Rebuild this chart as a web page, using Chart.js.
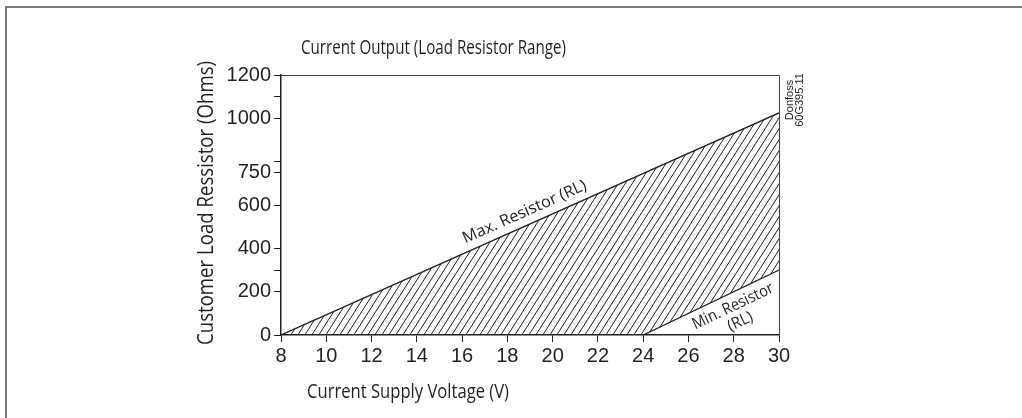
<!DOCTYPE html>
<html>
<head>
<meta charset="utf-8">
<script src="https://cdn.jsdelivr.net/npm/chart.js@4.4.1/dist/chart.umd.min.js"></script>
<style>
    html, body { margin: 0; padding: 0; background: #fff; }
    #wrap { width: 1022px; height: 418px; }
</style>
</head>
<body>
<div id="wrap"><canvas id="chart" width="1022" height="418"></canvas></div>
<script>
// max / min load resistor lines (V, Ohms)
const maxVoltage = [8, 30];
const maxResistor = [0, 1025];
const minVoltage = [8, 24, 30];
const minResistor = [0, 0, 300];

const xTicks = [8, 10, 12, 14, 16, 18, 20, 22, 24, 26, 28, 30];
const yTicks = [0, 200, 300, 400, 600, 750, 800, 1000, 1100, 1200];
const yTickLabels = ['0', '200', '', '400', '600', '750', '', '1000', '', '1200'];

const ink = '#231f20';

function hatchPattern() {
    const c = document.createElement('canvas');
    c.width = 7;
    c.height = 11;
    const g = c.getContext('2d');
    g.strokeStyle = ink;
    g.lineWidth = 1;
    g.beginPath();
    for (let k = -1; k <= 1; k++) {
        g.moveTo(k * 7 - 7, 22);
        g.lineTo(k * 7 + 14, -11);
    }
    g.stroke();
    return g.createPattern(c, 'repeat');
}

// draw text squeezed to a given width (the original uses a narrow face)
function fitText(ctx, s, x, y, size, width, align) {
    ctx.save();
    ctx.font = size + 'px "Open Sans"';
    const w = ctx.measureText(s).width;
    ctx.translate(x, y);
    ctx.scale(width / w, 1);
    ctx.textAlign = align || 'left';
    ctx.fillText(s, 0, 0);
    ctx.restore();
}

const textPlugin = {
    id: 'textPlugin',
    afterDraw(chart) {
        const ctx = chart.ctx;
        const a = chart.chartArea;
        const xs = chart.scales.x, ys = chart.scales.y;
        ctx.save();

        // outer frame
        ctx.strokeStyle = '#777';
        ctx.lineWidth = 2;
        ctx.beginPath();
        ctx.moveTo(6, 418);
        ctx.lineTo(6, 7);
        ctx.lineTo(1022, 7);
        ctx.stroke();

        // top and right edge of the plot
        ctx.strokeStyle = '#444';
        ctx.lineWidth = 1;
        ctx.beginPath();
        ctx.moveTo(a.left, a.top + 0.5);
        ctx.lineTo(a.right + 0.5, a.top + 0.5);
        ctx.lineTo(a.right + 0.5, a.bottom);
        ctx.stroke();

        ctx.fillStyle = ink;
        ctx.textBaseline = 'middle';

        fitText(ctx, 'Current Output (Load Resistor Range)', 301, 48, 20.5, 265);
        fitText(ctx, 'Current Supply Voltage (V)', 307, 392, 20.5, 202);

        ctx.save();
        ctx.translate(207, 203);
        ctx.rotate(-Math.PI / 2);
        fitText(ctx, 'Customer Load Ressistor (Ohms)', 0, 0, 22.5, 284, 'center');
        ctx.restore();

        // labels along the lines
        function along(vx, vy, t, off, lines, size, widths) {
            const x1 = xs.getPixelForValue(vx[0]), y1 = ys.getPixelForValue(vy[0]);
            const x2 = xs.getPixelForValue(vx[vx.length - 1]), y2 = ys.getPixelForValue(vy[vy.length - 1]);
            ctx.save();
            ctx.translate(x1 + (x2 - x1) * t, y1 + (y2 - y1) * t);
            ctx.rotate(Math.atan2(y2 - y1, x2 - x1));
            lines.forEach((s, i) => fitText(ctx, s, 0, off + i * 17, size, widths[i], 'center'));
            ctx.restore();
        }
        along(maxVoltage, maxResistor, 0.50, -13, ['Max. Resistor (RL)'], 16, [134]);
        along(minVoltage.slice(1), minResistor.slice(1), 0.62, 13, ['Min. Resistor', '(RL)'], 16, [88, 26]);

        // figure code
        ctx.save();
        ctx.translate(a.right + 11, 100);
        ctx.rotate(-Math.PI / 2);
        ctx.font = '11px "Liberation Sans"';
        ctx.textAlign = 'center';
        ctx.fillText('Donfoss', 0, 0);
        ctx.fillText('60G395.11', 0, 10);
        ctx.restore();

        ctx.restore();
    }
};

const ctx = document.getElementById('chart').getContext('2d');
new Chart(ctx, {
    type: 'line',
    data: {
        datasets: [{
            label: 'Max. Resistor (RL)',
            data: maxVoltage.map((v, i) => ({ x: v, y: maxResistor[i] })),
            borderColor: ink,
            borderWidth: 1.3,
            pointRadius: 0,
            fill: 1,
            backgroundColor: hatchPattern()
        }, {
            label: 'Min. Resistor (RL)',
            data: minVoltage.map((v, i) => ({ x: v, y: minResistor[i] })),
            borderColor: ink,
            borderWidth: 1.3,
            pointRadius: 0,
            fill: false
        }]
    },
    options: {
        responsive: false,
        animation: false,
        devicePixelRatio: 1,
        layout: { padding: { left: 0, top: 75, right: 243, bottom: 0 } },
        plugins: {
            legend: { display: false },
            tooltip: { enabled: false },
            title: { display: false }
        },
        scales: {
            x: {
                type: 'linear',
                min: 8,
                max: 30,
                afterBuildTicks: (s) => { s.ticks = xTicks.map(v => ({ value: v })); },
                afterFit: (s) => { s.height = 83; },
                ticks: {
                    color: ink,
                    padding: 2,
                    maxRotation: 0,
                    font: { family: '"Liberation Sans"', size: 20 }
                },
                grid: { drawOnChartArea: false, drawTicks: true, tickLength: 7, color: ink },
                border: { display: true, color: ink, width: 1.5 }
            },
            y: {
                type: 'linear',
                min: 0,
                max: 1200,
                afterBuildTicks: (s) => { s.ticks = yTicks.map(v => ({ value: v })); },
                afterFit: (s) => { s.width = 281; },
                ticks: {
                    color: ink,
                    padding: 3,
                    callback: (v, i) => yTickLabels[i],
                    font: { family: '"Liberation Sans"', size: 20 }
                },
                grid: { drawOnChartArea: false, drawTicks: true, tickLength: 7, color: ink },
                border: { display: true, color: ink, width: 1.5 }
            }
        }
    },
    plugins: [textPlugin]
});
</script>
</body>
</html>
